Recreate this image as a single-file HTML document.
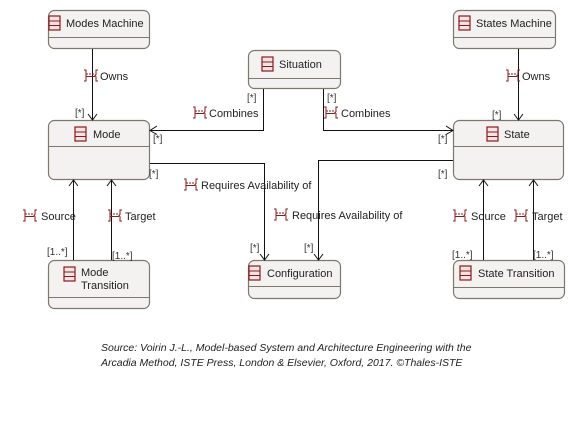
<!DOCTYPE html>
<html><head><style>body{margin:0;background:#fff}svg{display:block}text{font-family:"Liberation Sans",sans-serif;font-size:11px;fill:#222}.c{font-size:10px;fill:#333}</style></head><body>
<svg width="588" height="441" viewBox="0 0 588 441">
<defs>
<g id="ic"><rect x="0" y="0" width="11" height="14" fill="#f2e4e4" stroke="#8b1a1a" stroke-width="1.2"/><line x1="0" y1="5" x2="11" y2="5" stroke="#8b1a1a"/><line x1="0" y1="9.5" x2="11" y2="9.5" stroke="#8b1a1a"/></g>
<g id="lk" fill="none" stroke="#8b1a1a" stroke-width="1"><path d="M0,0 h2 v11 h-2"/><path d="M14,0 h-2 v4.5 l-1,1 l1,1 v4.5 h2"/><line x1="2" y1="4" x2="11" y2="4" stroke-dasharray="2,1"/><line x1="2" y1="6.5" x2="11" y2="6.5"/></g>
</defs>
<g fill="#f3f2f0" stroke="#7d776c" stroke-width="1.2">
<rect x="48.5" y="10.5" width="101" height="38" rx="6"/>
<rect x="48.5" y="120.5" width="101" height="59" rx="6"/>
<rect x="248.5" y="50.5" width="92" height="38" rx="6"/>
<rect x="248.5" y="260.5" width="92" height="38" rx="6"/>
<rect x="48.5" y="260.5" width="101" height="48" rx="6"/>
<rect x="453.5" y="10.5" width="102" height="38" rx="6"/>
<rect x="453.5" y="120.5" width="110" height="59" rx="6"/>
<rect x="453.5" y="260.5" width="111" height="38" rx="6"/>
</g>
<g stroke="#7d776c" stroke-width="1">
<line x1="49" y1="37.5" x2="149" y2="37.5"/>
<line x1="49" y1="146.5" x2="149" y2="146.5"/>
<line x1="249" y1="78.5" x2="340" y2="78.5"/>
<line x1="249" y1="286.5" x2="340" y2="286.5"/>
<line x1="49" y1="297.5" x2="149" y2="297.5"/>
<line x1="454" y1="37.5" x2="555" y2="37.5"/>
<line x1="454" y1="146.5" x2="563" y2="146.5"/>
<line x1="454" y1="287.5" x2="564" y2="287.5"/>
</g>
<use href="#ic" x="49" y="16"/><text x="66" y="27">Modes Machine</text>
<use href="#ic" x="75" y="127"/><text x="93" y="138">Mode</text>
<use href="#ic" x="262" y="57"/><text x="279" y="68">Situation</text>
<use href="#ic" x="249" y="266"/><text x="267" y="277">Configuration</text>
<use href="#ic" x="64" y="267"/><text x="81" y="276">Mode</text><text x="81" y="289">Transition</text>
<use href="#ic" x="459" y="16"/><text x="476" y="27">States Machine</text>
<use href="#ic" x="487" y="127"/><text x="504" y="138">State</text>
<use href="#ic" x="460" y="266"/><text x="478" y="277">State Transition</text>
<g stroke="#111" stroke-width="1" fill="none">
<path d="M92.5,49 V120 M88,114 l4.5,6 l4.5,-6"/>
<path d="M263.5,89 V130.5 H150 M157,126 l-7,4.5 l7,4"/>
<path d="M323.5,89 V130.5 H453 M446,126 l7,4.5 l-7,4"/>
<path d="M150,163.5 H264.5 V260 M260,254 l4.5,6 l4.5,-6"/>
<path d="M453,160.5 H318.5 V260 M314,254 l4.5,6 l4.5,-6"/>
<path d="M73.5,260 V180 M69,186 l4.5,-6 l4.5,6"/>
<path d="M111.5,260 V180 M107,186 l4.5,-6 l4.5,6"/>
<path d="M518.5,49 V120 M514,114 l4.5,6 l4.5,-6"/>
<path d="M483.5,260 V180 M479,186 l4.5,-6 l4.5,6"/>
<path d="M533.5,260 V180 M529,186 l4.5,-6 l4.5,6"/>
</g>
<use href="#lk" x="84" y="70"/><text x="100" y="80">Owns</text>
<use href="#lk" x="193" y="107"/><text x="209" y="117">Combines</text>
<use href="#lk" x="324" y="107"/><text x="341" y="117">Combines</text>
<use href="#lk" x="184" y="179"/><text x="201" y="189">Requires Availability of</text>
<use href="#lk" x="274" y="209"/><text x="292" y="219">Requires Availability of</text>
<use href="#lk" x="23" y="210"/><text x="41" y="220">Source</text>
<use href="#lk" x="108" y="210"/><text x="125" y="220">Target</text>
<use href="#lk" x="453" y="210"/><text x="471" y="220">Source</text>
<use href="#lk" x="514" y="210"/><text x="532" y="220">Target</text>
<use href="#lk" x="506" y="70"/><text x="522" y="80">Owns</text>
<text class="c" x="75" y="116">[*]</text>
<text class="c" x="247" y="101">[*]</text>
<text class="c" x="327" y="101">[*]</text>
<text class="c" x="153" y="142">[*]</text>
<text class="c" x="438" y="142">[*]</text>
<text class="c" x="149" y="177">[*]</text>
<text class="c" x="438" y="177">[*]</text>
<text class="c" x="250" y="251">[*]</text>
<text class="c" x="304" y="251">[*]</text>
<text class="c" x="47" y="255">[1..*]</text>
<text class="c" x="112" y="259">[1..*]</text>
<text class="c" x="452" y="258">[1..*]</text>
<text class="c" x="533" y="258">[1..*]</text>
<text class="c" x="492" y="118">[*]</text>
<text x="101" y="351" font-style="italic" style="font-size:10.5px">Source: Voirin J.-L., Model-based System and Architecture Engineering with the</text>
<text x="101" y="366" font-style="italic" style="font-size:10.5px">Arcadia Method, ISTE Press, London &amp; Elsevier, Oxford, 2017. ©Thales-ISTE</text>
</svg>
</body></html>
